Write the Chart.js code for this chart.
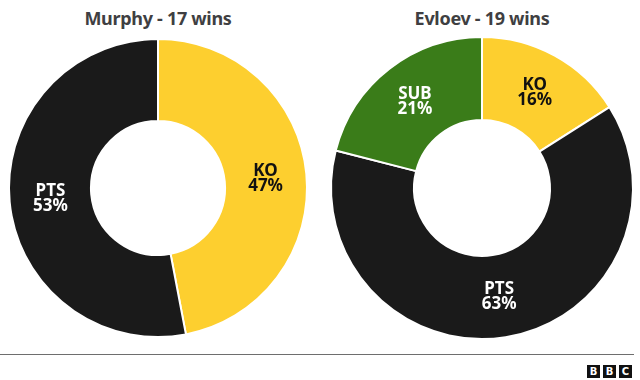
<!DOCTYPE html>
<html>
<head>
<meta charset="utf-8">
<script src="https://cdn.jsdelivr.net/npm/chart.js@4"></script>
<style>
  body { margin: 0; background: #fff; font-family: "Noto Sans", sans-serif; }
  #wrap { position: relative; width: 640px; height: 380px; overflow: hidden; }
  .title { position: absolute; top: 6px; width: 320px; text-align: center; font-weight: bold; font-size: 18px; color: #3f3f42; letter-spacing: -0.3px; }
  .box { position: absolute; }
  #rule { position: absolute; left: 0; top: 354px; width: 634px; height: 1px; background: #6e6e6e; }
  #logo { position: absolute; right: 8px; top: 365px; display: flex; gap: 3px; }
  #logo span { width: 13px; height: 13px; background: #111; color: #fff; font: bold 10px "DejaVu Sans", sans-serif; text-align: center; line-height: 13px; }
</style>
</head>
<body>
<div id="wrap">
  <div class="title" style="left:-2px">Murphy - 17 wins</div>
  <div class="title" style="left:322px">Evloev - 19 wins</div>
  <div class="box" style="left:0px; top:30px; width:316px; height:316px"><canvas id="murphy"></canvas></div>
  <div class="box" style="left:322px; top:28px; width:320px; height:320px"><canvas id="evloev"></canvas></div>
  <div id="rule"></div>
  <div id="logo"><span>B</span><span>B</span><span>C</span></div>
</div>
<script>
const murphyLabels = ["KO", "PTS"];
const murphyValues = [47, 53];
const evloevLabels = ["KO", "PTS", "SUB"];
const evloevValues = [16, 63, 21];

const colours = { KO: "#fdcf2f", PTS: "#1a1a1a", SUB: "#3a7c19" };
const textColours = { KO: "#111", PTS: "#fff", SUB: "#fff" };

// writes "LABEL / nn%" in the middle of each slice
const sliceLabels = {
  id: "sliceLabels",
  afterDatasetsDraw(chart) {
    const ctx = chart.ctx;
    const labels = chart.data.labels;
    const values = chart.data.datasets[0].data;
    chart.getDatasetMeta(0).data.forEach((arc, i) => {
      const p = arc.getCenterPoint();
      ctx.save();
      ctx.fillStyle = textColours[labels[i]];
      ctx.font = "bold 17px 'Noto Sans', sans-serif";
      ctx.textAlign = "center";
      ctx.textBaseline = "middle";
      ctx.fillText(labels[i], p.x, p.y - 7);
      ctx.fillText(values[i] + "%", p.x, p.y + 8);
      ctx.restore();
    });
  }
};

function makeDoughnut(id, labels, values) {
  return new Chart(document.getElementById(id), {
    type: "doughnut",
    data: {
      labels: labels,
      datasets: [{
        data: values,
        backgroundColor: labels.map(l => colours[l]),
        borderColor: "#fff",
        borderWidth: 2
      }]
    },
    options: {
      responsive: true,
      maintainAspectRatio: false,
      animation: false,
      cutout: "45%",
      layout: { padding: 8 },
      plugins: { legend: { display: false }, tooltip: { enabled: false } }
    },
    plugins: [sliceLabels]
  });
}

makeDoughnut("murphy", murphyLabels, murphyValues);
makeDoughnut("evloev", evloevLabels, evloevValues);
</script>
</body>
</html>
